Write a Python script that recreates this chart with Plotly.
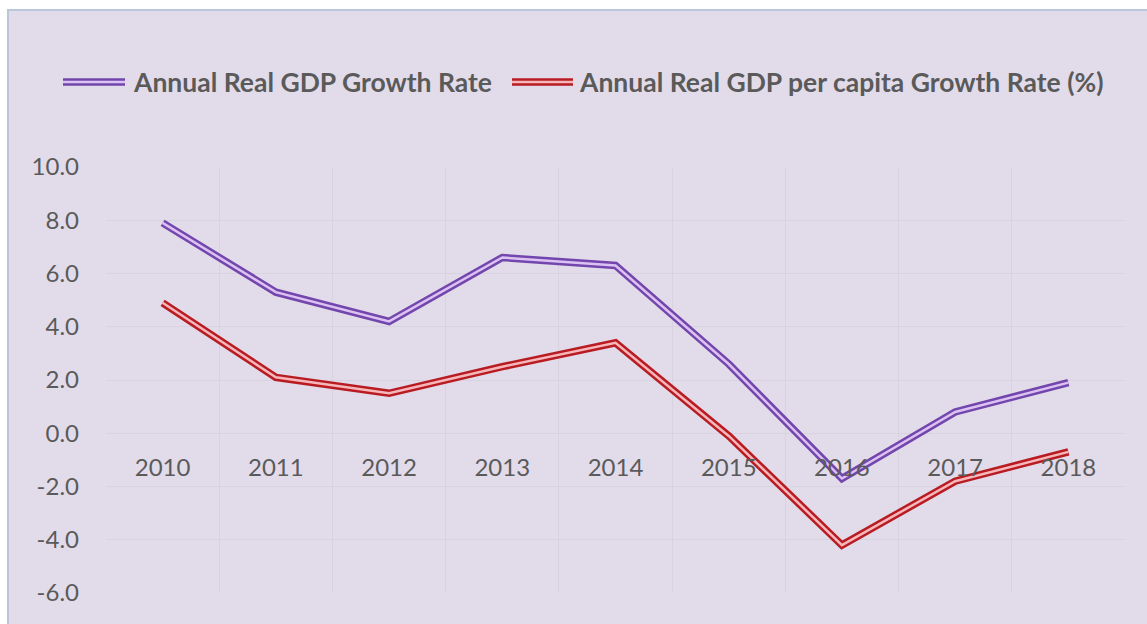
import plotly.graph_objects as go

# Annual growth rates, 2010-2018
years = ["2010", "2011", "2012", "2013", "2014", "2015", "2016", "2017", "2018"]
gdp_growth = [7.9, 5.3, 4.2, 6.6, 6.3, 2.6, -1.7, 0.8, 1.9]
gdp_pc_growth = [4.9, 2.1, 1.5, 2.5, 3.4, -0.1, -4.2, -1.8, -0.7]
series_names = [
    "Annual Real GDP Growth Rate",
    "Annual Real GDP per capita Growth Rate (%)",
]
y_ticks = [-6, -4, -2, 0, 2, 4, 6, 8, 10]
y_tick_labels = ["-6.0", "-4.0", "-2.0", "0.0", "2.0", "4.0", "6.0", "8.0", "10.0"]

W, H = 1147, 624
M_L, M_R, M_T, M_B = 106, 22, 167, 31
PW, PH = W - M_L - M_R, H - M_T - M_B

BG = "#e2dcea"
GRID = "#d8d2e1"
TXT = "#5a5a5a"
FONT = "Lato, 'Open Sans', sans-serif"

# Double ("compound") line styling: dark outer stroke with a light core
styles = [
    {"outer": "#7346ad", "inner": "#dcc2f2"},
    {"outer": "#b81c22", "inner": "#f6b6ba"},
]


def px_x(x):
    return (x - M_L) / PW


def px_y(y):
    return (H - M_B - y) / PH


fig = go.Figure()
for vals, name, st in zip([gdp_growth, gdp_pc_growth], series_names, styles):
    fig.add_trace(go.Scatter(x=years, y=vals, mode="lines", name=name,
                             line=dict(color=st["outer"], width=7.5),
                             showlegend=False, hoverinfo="skip"))
    fig.add_trace(go.Scatter(x=years, y=vals, mode="lines", name=name,
                             line=dict(color=st["inner"], width=2.5),
                             showlegend=False, hoverinfo="y"))

shapes = [
    # chart frame
    dict(type="rect", xref="paper", yref="paper",
         x0=px_x(8), x1=px_x(W + 10), y0=px_y(H + 10), y1=px_y(10),
         fillcolor=BG, line=dict(color="#b9c7da", width=2), layer="below"),
]
annotations = []

# Legend drawn with double-line keys
legend_items = [(63, 125, 131, 26.5), (512, 573, 577, 26.5)]
ly = px_y(82)
for (x0, x1, tx, fs), name, st in zip(legend_items, series_names, styles):
    shapes.append(dict(type="line", xref="paper", yref="paper",
                       x0=px_x(x0), x1=px_x(x1), y0=ly, y1=ly,
                       line=dict(color=st["outer"], width=7.5)))
    shapes.append(dict(type="line", xref="paper", yref="paper",
                       x0=px_x(x0), x1=px_x(x1), y0=ly, y1=ly,
                       line=dict(color=st["inner"], width=2.5)))
    annotations.append(dict(xref="paper", yref="paper", x=px_x(tx), y=ly,
                            xanchor="left", yanchor="middle", showarrow=False,
                            text="<b>" + name + "</b>",
                            font=dict(family=FONT, size=fs, color=TXT)))

zero_pos = (0 - y_ticks[0]) / (y_ticks[-1] - y_ticks[0])

fig.update_layout(
    width=W, height=H,
    margin=dict(l=M_L, r=M_R, t=M_T, b=M_B),
    paper_bgcolor="white",
    plot_bgcolor=BG,
    font=dict(family=FONT, color=TXT, size=24),
    shapes=shapes,
    annotations=annotations,
    xaxis=dict(type="category", range=[-0.5, len(years) - 0.5],
               tickson="boundaries", showgrid=True, gridcolor=GRID,
               gridwidth=1, ticks="", showline=False, zeroline=False,
               anchor="free", position=zero_pos, ticklabelstandoff=18,
               tickfont=dict(size=24, color=TXT)),
    yaxis=dict(range=[y_ticks[0], y_ticks[-1]], tickvals=y_ticks,
               ticktext=y_tick_labels, showgrid=True, gridcolor=GRID,
               gridwidth=1, zeroline=False, showline=False, ticks="",
               ticklabelstandoff=26, tickfont=dict(size=24, color=TXT)),
)

fig.write_html("out.html")
